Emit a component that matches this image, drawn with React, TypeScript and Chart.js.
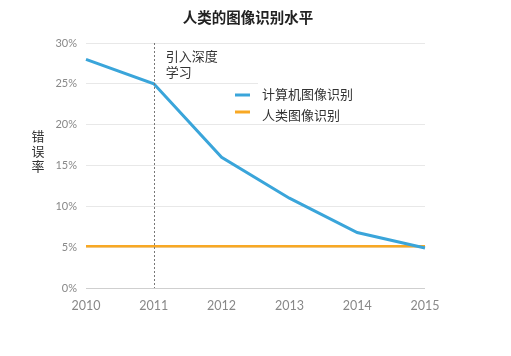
import React, { useEffect, useRef } from "react";
import { Chart, registerables } from "chart.js";

Chart.register(...registerables);

const years = ["2010", "2011", "2012", "2013", "2014", "2015"];
const computerVision = [28, 25, 16, 11, 6.8, 4.9];
const humanVision = [5.1, 5.1, 5.1, 5.1, 5.1, 5.1];
const seriesNames = ["计算机图像识别", "人类图像识别"];
const seriesColors = ["#3aa5da", "#f8a824"];
const chartTitle = "人类的图像识别水平";
const yTitleChars = ["错", "误", "率"];
const annotationYear = "2011";
const annotationLines = ["引入深度", "学习"];

const CJK = '"Noto Sans CJK SC", "Noto Sans", sans-serif';
const TICK_FONT = 'Lato, "Open Sans", sans-serif';

const decorPlugin = {
  id: "decor",
  afterDatasetsDraw(chart: any) {
    const { ctx, chartArea, scales } = chart;
    const x = scales.x.getPixelForValue(years.indexOf(annotationYear));
    ctx.save();
    // dotted annotation line
    ctx.strokeStyle = "#777";
    ctx.lineWidth = 1;
    ctx.setLineDash([2, 2]);
    ctx.beginPath();
    ctx.moveTo(Math.round(x) + 0.5, chartArea.top);
    ctx.lineTo(Math.round(x) + 0.5, chartArea.bottom);
    ctx.stroke();
    ctx.setLineDash([]);
    // annotation text
    ctx.fillStyle = "#333";
    ctx.font = `13px ${CJK}`;
    ctx.textAlign = "left";
    ctx.textBaseline = "middle";
    ctx.fillText(annotationLines[0], x + 12, 56.5);
    ctx.fillText(annotationLines[1], x + 12, 72);
    // legend
    ctx.fillStyle = "#fff";
    ctx.fillRect(258, 78, chartArea.right - 258 + 4, 42);
    const legendY = [95, 112];
    const textY = [94, 115];
    seriesNames.forEach((name, i) => {
      ctx.strokeStyle = seriesColors[i];
      ctx.lineWidth = 3;
      ctx.beginPath();
      ctx.moveTo(235, legendY[i]);
      ctx.lineTo(250, legendY[i]);
      ctx.stroke();
      ctx.fillStyle = "#333";
      ctx.font = `13px ${CJK}`;
      ctx.fillText(name, 262, textY[i]);
    });
    ctx.restore();
  },
  afterDraw(chart: any) {
    const { ctx } = chart;
    ctx.save();
    ctx.fillStyle = "#222";
    ctx.font = `bold 14.5px ${CJK}`;
    ctx.textAlign = "center";
    ctx.textBaseline = "middle";
    ctx.fillText(chartTitle, 248, 17);
    ctx.font = `13px ${CJK}`;
    ctx.fillStyle = "#333";
    yTitleChars.forEach((c, i) => ctx.fillText(c, 38, 136 + i * 15));
    ctx.restore();
  },
};

export default function App() {
  const ref = useRef<HTMLCanvasElement>(null);
  useEffect(() => {
    if (!ref.current) return;
    const chart = new Chart(ref.current, {
      type: "line",
      data: {
        labels: years,
        datasets: [
          {
            label: seriesNames[1],
            data: humanVision,
            borderColor: seriesColors[1],
            borderWidth: 2.5,
            pointRadius: 0,
            tension: 0,
            order: 2,
          },
          {
            label: seriesNames[0],
            data: computerVision,
            borderColor: seriesColors[0],
            borderWidth: 3,
            pointRadius: 0,
            tension: 0,
            order: 1,
          },
        ],
      },
      options: {
        animation: false,
        responsive: false,
        layout: { padding: { left: 0, top: 43, right: 86, bottom: 0 } },
        plugins: { legend: { display: false }, title: { display: false }, tooltip: { enabled: false } },
        scales: {
          x: {
            offset: false,
            grid: { display: false },
            border: { display: false },
            ticks: { color: "#888", font: { family: TICK_FONT, size: 12.5 }, padding: 2, maxRotation: 0 },
            afterFit: (s: any) => { s.height = 68; },
          },
          y: {
            min: 0,
            max: 30,
            ticks: {
              stepSize: 5,
              color: "#888",
              font: { family: TICK_FONT, size: 11 },
              padding: 9,
              callback: (v: any) => `${v}%`,
            },
            grid: {
              color: (c: any) => (c.tick && c.tick.value === 0 ? "#cfcfcf" : "#e8e8e8"),
              drawTicks: false,
              lineWidth: 1,
            },
            border: { display: false },
            afterFit: (s: any) => { s.width = 86; },
          },
        },
      },
      plugins: [decorPlugin],
    });
    return () => chart.destroy();
  }, []);
  return (
    <div style={{ position: "fixed", left: 0, top: 0, width: 511, height: 356, background: "#fff" }}>
      <canvas ref={ref} width={511} height={356} />
    </div>
  );
}
